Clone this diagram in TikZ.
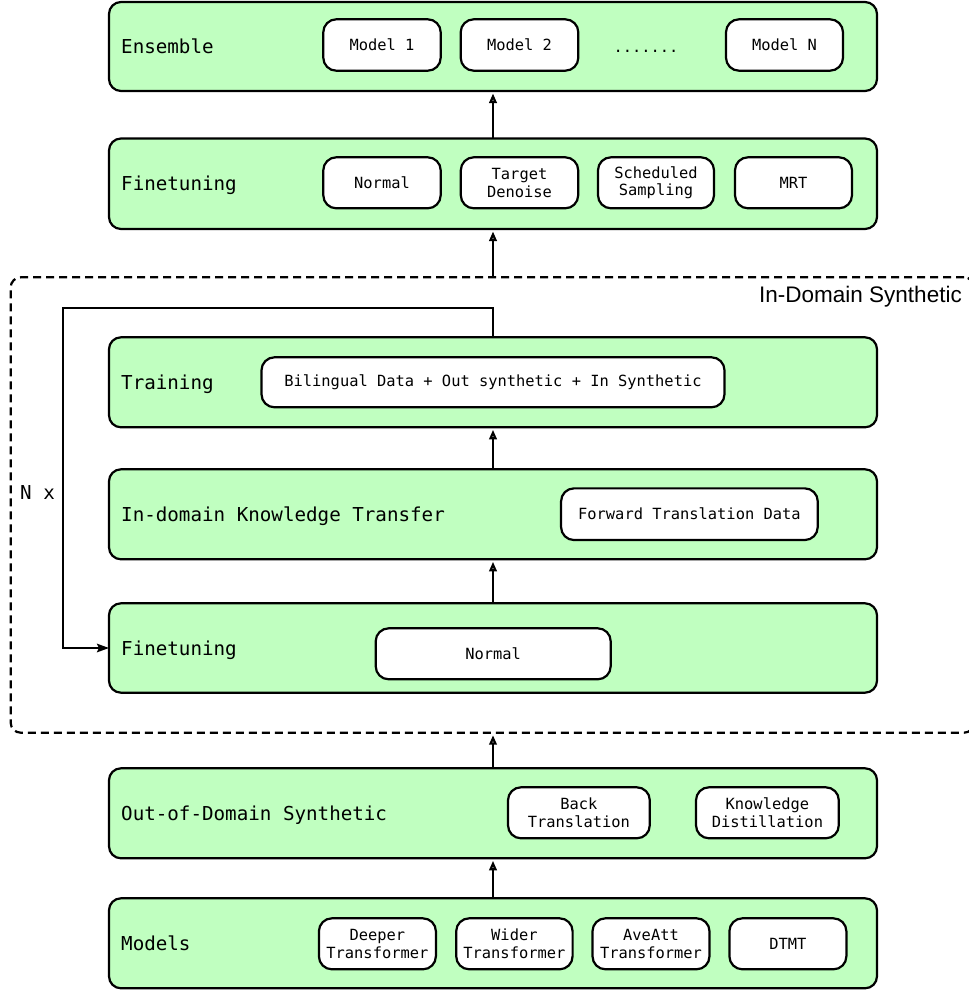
\documentclass[tikz,border=0pt]{standalone}
\usepackage{fontspec}
\setmonofont{DejaVu Sans Mono}
\newfontfamily\helv{Liberation Sans}
\usetikzlibrary{arrows.meta}
\definecolor{boxgreen}{RGB}{192,255,192}
\begin{document}
\begin{tikzpicture}[x=1pt,y=-1pt,
  bigbox/.style={draw=black, line width=2.2pt, fill=boxgreen, rounded corners=12pt, rectangle, inner sep=0pt, outer sep=0pt},
  smallbox/.style={draw=black, line width=2.2pt, fill=white, rounded corners=13pt, rectangle, inner sep=0pt, outer sep=0pt, align=center, font=\ttfamily\fontsize{15.4}{17.5}\selectfont},
  lbl/.style={anchor=base west, inner sep=0pt, font=\ttfamily\fontsize{19.2}{23}\selectfont},
  dashbox/.style={draw=black, line width=2.2pt, dash pattern=on 8pt off 5pt, rounded corners=10pt, rectangle, inner sep=0pt, outer sep=0pt},
  oarrow/.style={line width=2.2pt, -{Triangle[open, length=9.5pt, width=7.5pt]}, shorten >=2.5pt},
  farrow/.style={line width=2.2pt, -{Stealth[length=12pt, width=8.5pt, inset=2pt]}}
]
\useasboundingbox (0,0) rectangle (969,991);

% dashed in-domain region
\node[dashbox, minimum width=963.3pt, minimum height=455.4pt] (dash) at (492.35,505) {};
\node[anchor=base east, inner sep=0pt, font=\helv\fontsize{22.5}{26}\selectfont] (dashlbl) at (962,302.7) {In-Domain Synthetic};

% big boxes
\node[bigbox, minimum width=768pt, minimum height=89pt] (ens) at (493,46.5) {};
\node[bigbox, minimum width=768pt, minimum height=90.5pt] (ft1) at (493,183.75) {};
\node[bigbox, minimum width=768pt, minimum height=90pt] (train) at (493,382.3) {};
\node[bigbox, minimum width=768pt, minimum height=90pt] (idkt) at (493,514.3) {};
\node[bigbox, minimum width=768pt, minimum height=89.4pt] (ft2) at (493,648) {};
\node[bigbox, minimum width=768pt, minimum height=90pt] (ood) at (493,813.3) {};
\node[bigbox, minimum width=768pt, minimum height=90pt] (models) at (493,943.3) {};

% labels
\node[lbl] (lens) at (121,53.5) {Ensemble};
\node[lbl] (lft1) at (121,190.7) {Finetuning};
\node[lbl] (ltrain) at (121,389.3) {Training};
\node[lbl] (lidkt) at (121,521.5) {In-domain Knowledge Transfer};
\node[lbl] (lft2) at (121,655) {Finetuning};
\node[lbl] (lood) at (121,820.3) {Out-of-Domain Synthetic};
\node[lbl] (lmodels) at (121,950.3) {Models};
\node[lbl] (lnx) at (20,499) {N x};

% ensemble inner
\node[smallbox, minimum width=117.4pt, minimum height=51.4pt] (m1) at (382,45) {Model 1};
\node[smallbox, minimum width=117.6pt, minimum height=51.4pt] (m2) at (519.5,45) {Model 2};
\node[anchor=base, inner sep=0pt, font=\ttfamily\fontsize{15.4}{17.5}\selectfont] (dots) at (646,52) {.......};
\node[smallbox, minimum width=117pt, minimum height=51.4pt] (mN) at (784.5,45) {Model N};

% finetuning inner
\node[smallbox, minimum width=117.4pt, minimum height=51pt] (n1) at (382,182.8) {Normal};
\node[smallbox, minimum width=117.4pt, minimum height=51pt] (td) at (519.5,182.8) {Target\\Denoise};
\node[smallbox, minimum width=116pt, minimum height=51pt] (ss) at (656,182.8) {Scheduled\\Sampling};
\node[smallbox, minimum width=117pt, minimum height=51pt] (mrt) at (793.5,182.8) {MRT};

% training inner
\node[smallbox, minimum width=463pt, minimum height=50pt] (bil) at (493,382.3) {Bilingual Data + Out synthetic + In Synthetic};

% in-domain KT inner
\node[smallbox, minimum width=256.7pt, minimum height=51.7pt] (fwd) at (689.4,514.2) {Forward Translation Data};

% finetuning 2 inner
\node[smallbox, minimum width=235pt, minimum height=51pt] (n2) at (493.2,653.8) {Normal};

% out-of-domain inner
\node[smallbox, minimum width=141.8pt, minimum height=51pt] (bt) at (578.9,812.8) {Back\\Translation};
\node[smallbox, minimum width=142.8pt, minimum height=51pt] (kd) at (767.4,812.8) {Knowledge\\Distillation};

% models inner
\node[smallbox, minimum width=117pt, minimum height=51pt] (dt) at (377.4,943.8) {Deeper\\Transformer};
\node[smallbox, minimum width=116.4pt, minimum height=51pt] (wt) at (514.4,943.8) {Wider\\Transformer};
\node[smallbox, minimum width=117pt, minimum height=51pt] (at) at (651,943.8) {AveAtt\\Transformer};
\node[smallbox, minimum width=117pt, minimum height=51pt] (dtmt) at (787.9,943.8) {DTMT};

% arrows
\draw[oarrow] (ft1.north) -- (ens.south);
\draw[oarrow] (dash.north -| ft1.south) -- (ft1.south);
\draw[oarrow] (idkt.north) -- (train.south);
\draw[oarrow] (ft2.north) -- (idkt.south);
\draw[oarrow] (ood.north) -- (dash.south -| ood.north);
\draw[oarrow] (models.north) -- (ood.south);

% loop
\coordinate (lt) at (63.3,308.3);
\draw[farrow] (train.north) -- (train.north |- lt) -- (lt) -- (lt |- ft2.west) -- (ft2.west);
\end{tikzpicture}
\end{document}
